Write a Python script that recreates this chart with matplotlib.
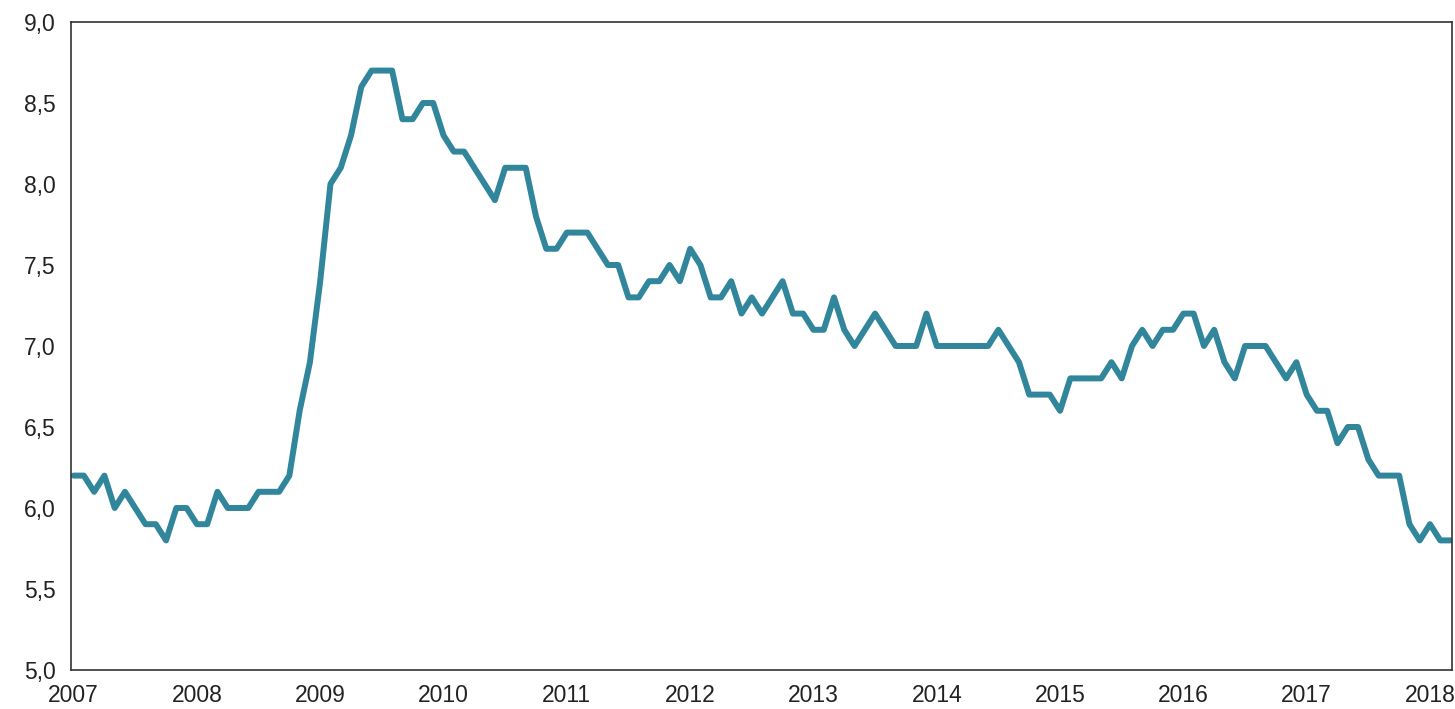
#!/usr/bin/env python3
import matplotlib
matplotlib.use("Agg")
import matplotlib.pyplot as plt
import numpy as np
from matplotlib.ticker import FuncFormatter

# monthly values, Jan 2007 - Mar 2018
VALUES = [
    6.2, 6.2, 6.1, 6.2, 6.0, 6.1, 6.0, 5.9, 5.9, 5.8, 6.0, 6.0,   # 2007
    5.9, 5.9, 6.1, 6.0, 6.0, 6.0, 6.1, 6.1, 6.1, 6.2, 6.6, 6.9,   # 2008
    7.4, 8.0, 8.1, 8.3, 8.6, 8.7, 8.7, 8.7, 8.4, 8.4, 8.5, 8.5,   # 2009
    8.3, 8.2, 8.2, 8.1, 8.0, 7.9, 8.1, 8.1, 8.1, 7.8, 7.6, 7.6,   # 2010
    7.7, 7.7, 7.7, 7.6, 7.5, 7.5, 7.3, 7.3, 7.4, 7.4, 7.5, 7.4,   # 2011
    7.6, 7.5, 7.3, 7.3, 7.4, 7.2, 7.3, 7.2, 7.3, 7.4, 7.2, 7.2,   # 2012
    7.1, 7.1, 7.3, 7.1, 7.0, 7.1, 7.2, 7.1, 7.0, 7.0, 7.0, 7.2,   # 2013
    7.0, 7.0, 7.0, 7.0, 7.0, 7.0, 7.1, 7.0, 6.9, 6.7, 6.7, 6.7,   # 2014
    6.6, 6.8, 6.8, 6.8, 6.8, 6.9, 6.8, 7.0, 7.1, 7.0, 7.1, 7.1,   # 2015
    7.2, 7.2, 7.0, 7.1, 6.9, 6.8, 7.0, 7.0, 7.0, 6.9, 6.8, 6.9,   # 2016
    6.7, 6.6, 6.6, 6.4, 6.5, 6.5, 6.3, 6.2, 6.2, 6.2, 5.9, 5.8,   # 2017
    5.9, 5.8, 5.8,                                                # 2018
]
YEARS = list(range(2007, 2019))
Y_TICKS = [5.0, 5.5, 6.0, 6.5, 7.0, 7.5, 8.0, 8.5, 9.0]

LINE_COLOR = "#31869B"

plt.rcParams["font.family"] = ["Liberation Sans", "DejaVu Sans"]

fig = plt.figure(figsize=(14.55, 7.09), dpi=100)
ax = fig.add_axes([0.0488, 0.055, 0.9492, 0.914])

x = np.arange(len(VALUES))
ax.plot(x, VALUES, color=LINE_COLOR, linewidth=4.3, solid_joinstyle="round",
        solid_capstyle="round")

ax.set_xlim(-0.25, len(VALUES) - 0.85)
ax.set_ylim(5.0, 9.0)
ax.set_yticks(Y_TICKS)
ax.yaxis.set_major_formatter(FuncFormatter(lambda v, _: f"{v:.1f}".replace(".", ",")))
ax.set_xticks([12 * i for i in range(len(YEARS))])
ax.set_xticklabels([str(y) for y in YEARS])

ax.tick_params(axis="both", length=0, labelsize=16.5, colors="#222222")
ax.tick_params(axis="y", pad=11)
ax.tick_params(axis="x", pad=10)
for spine in ax.spines.values():
    spine.set_color("#333333")
    spine.set_linewidth(1.2)

fig.savefig("out.png", dpi=100)
plt.close(fig)
